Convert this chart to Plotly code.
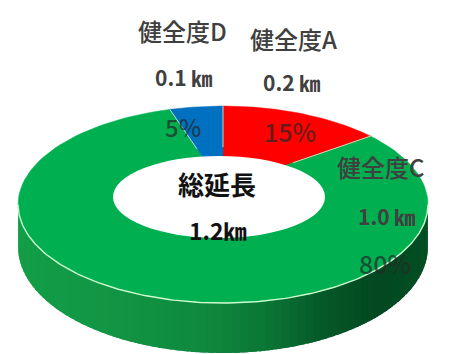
import numpy as np
import plotly.graph_objects as go

# Slices, clockwise from 12 o'clock
categories = ["健全度A", "健全度C", "健全度D"]
lengths_km = [0.2, 1.0, 0.1]
percents = [15, 80, 5]
total_label = "1.2㎞"
center_title = "総延長"
slice_colors = ["#ff0000", "#00b050", "#0070c0"]

# --- projection of the tilted disc (simple perspective) ---
CX, CY = 223.0, 186.8      # projected centre of the top face
SX, SY = 201.6, 95.3       # horizontal / vertical radii before perspective
RHO = 0.18                 # perspective strength
DEPTH = 41.0               # thickness of the disc


def proj(theta_deg, r=1.0, drop=0.0):
    th = np.radians(theta_deg)
    k = 1.0 + RHO * r * np.cos(th)
    x = CX + SX * r * np.sin(th) / k
    y = CY - SY * r * np.cos(th) / k + drop / k
    return x, y


def hex_rgb(h):
    h = h.lstrip("#")
    return np.array([int(h[i:i + 2], 16) for i in (0, 2, 4)], dtype=float)


# slice angle boundaries
bounds = np.concatenate([[0], np.cumsum(percents)]) / 100.0 * 360.0


def slice_of(theta):
    t = theta % 360.0
    for i in range(len(percents)):
        if bounds[i] <= t < bounds[i + 1]:
            return i
    return len(percents) - 1


fig = go.Figure()

# --- side wall (front half) with horizontal shading ---
theta_l = np.degrees(np.arccos(-RHO))
theta_r = 360 - theta_l
xl, _ = proj(theta_r)
xr, _ = proj(theta_l)
shade_t = [0.0, 0.2, 0.45, 0.6, 0.75, 0.88, 1.0]
shade_m = [0.90, 0.86, 0.78, 0.68, 0.50, 0.41, 0.45]
n_strips = 80
edges = np.linspace(theta_l, theta_r, n_strips + 1)
step = edges[1] - edges[0]
for j, (a0, a1) in enumerate(zip(edges[:-1], edges[1:])):
    # each strip overlaps the next one a little so no seams show
    hi = min(a1 + 0.8 * step, theta_r)
    ts = np.linspace(a0, hi, 5)
    tx, ty = proj(ts)
    bx, by = proj(ts[::-1], drop=DEPTH)
    mid_x, _ = proj((a0 + a1) / 2)
    t = (mid_x - xl) / (xr - xl)
    m = np.interp(t, shade_t, shade_m)
    base = hex_rgb(slice_colors[slice_of((a0 + a1) / 2)])
    c = base * m + np.array([35 * max(m - 0.35, 0), 0, 0])
    c = np.clip(c, 0, 255).astype(int)
    col = f"rgb({c[0]},{c[1]},{c[2]})"
    fig.add_trace(go.Scatter(
        x=np.concatenate([tx, bx]), y=np.concatenate([ty, by]),
        fill="toself", fillcolor=col, mode="lines",
        line=dict(color=col, width=0), hoverinfo="skip", showlegend=False))

# --- top face slices ---
for i, col in enumerate(slice_colors):
    ts = np.linspace(bounds[i], bounds[i + 1], 120)
    ox, oy = proj(ts)
    px = np.concatenate([[CX], ox, [CX]])
    py = np.concatenate([[CY], oy, [CY]])
    fig.add_trace(go.Scatter(
        x=px, y=py, fill="toself", fillcolor=col, mode="lines",
        line=dict(color=col, width=0.5), hoverinfo="skip", showlegend=False))

# light seams between slices
for b in bounds[:-1]:
    sx, sy = proj(np.array([b, b]), r=np.array([0.45, 1.0]))
    fig.add_trace(go.Scatter(x=sx, y=sy, mode="lines",
                             line=dict(color="rgba(255,240,220,0.75)", width=1),
                             hoverinfo="skip", showlegend=False))

# highlight along the front rim
ts = np.linspace(theta_l, theta_r, 200)
hx, hy = proj(ts)
fig.add_trace(go.Scatter(x=hx, y=hy, mode="lines",
                         line=dict(color="rgba(215,255,215,0.95)", width=1.4),
                         hoverinfo="skip", showlegend=False))

# white centre hole
fig.add_shape(type="circle", x0=113, x1=325, y0=156, y1=238,
              fillcolor="white", line=dict(width=0), layer="above")

# --- labels ---
JP = "Noto Sans CJK JP"
name_pos = [(293, 38), (381, 166), (182, 30)]
km_pos = [(291, 82), (386, 216), (183, 77)]
pct_pos = [(290, 131), (385, 263), (183, 126)]
pct_size = [25, 25, 24]
for i in range(len(categories)):
    fig.add_annotation(x=name_pos[i][0], y=name_pos[i][1], text=categories[i],
                       showarrow=False,
                       font=dict(family=JP, size=24, color="#404040", weight=500))
    fig.add_annotation(x=km_pos[i][0], y=km_pos[i][1],
                       text=f"<b>{lengths_km[i]:.1f} ㎞</b>", showarrow=False,
                       font=dict(family=JP, size=21, color="#404040"))
    fig.add_annotation(x=pct_pos[i][0], y=pct_pos[i][1], text=f"{percents[i]}%",
                       showarrow=False,
                       font=dict(family=JP, size=pct_size[i], weight=500,
                                 color="rgba(40,40,40,0.72)"))

fig.add_annotation(x=217, y=183, text=f"<b>{center_title}</b>", showarrow=False,
                   font=dict(family=JP, size=26, color="#111111"))
fig.add_annotation(x=218, y=230, text=f"<b>{total_label}</b>", showarrow=False,
                   font=dict(family=JP, size=23, color="#111111"))

fig.update_xaxes(range=[0, 450], visible=False, fixedrange=True)
fig.update_yaxes(range=[354, 0], visible=False, fixedrange=True)
fig.update_layout(width=450, height=354, autosize=False,
                  margin=dict(l=0, r=0, t=0, b=0),
                  paper_bgcolor="white", plot_bgcolor="white",
                  showlegend=False)

fig.write_html("out.html")
